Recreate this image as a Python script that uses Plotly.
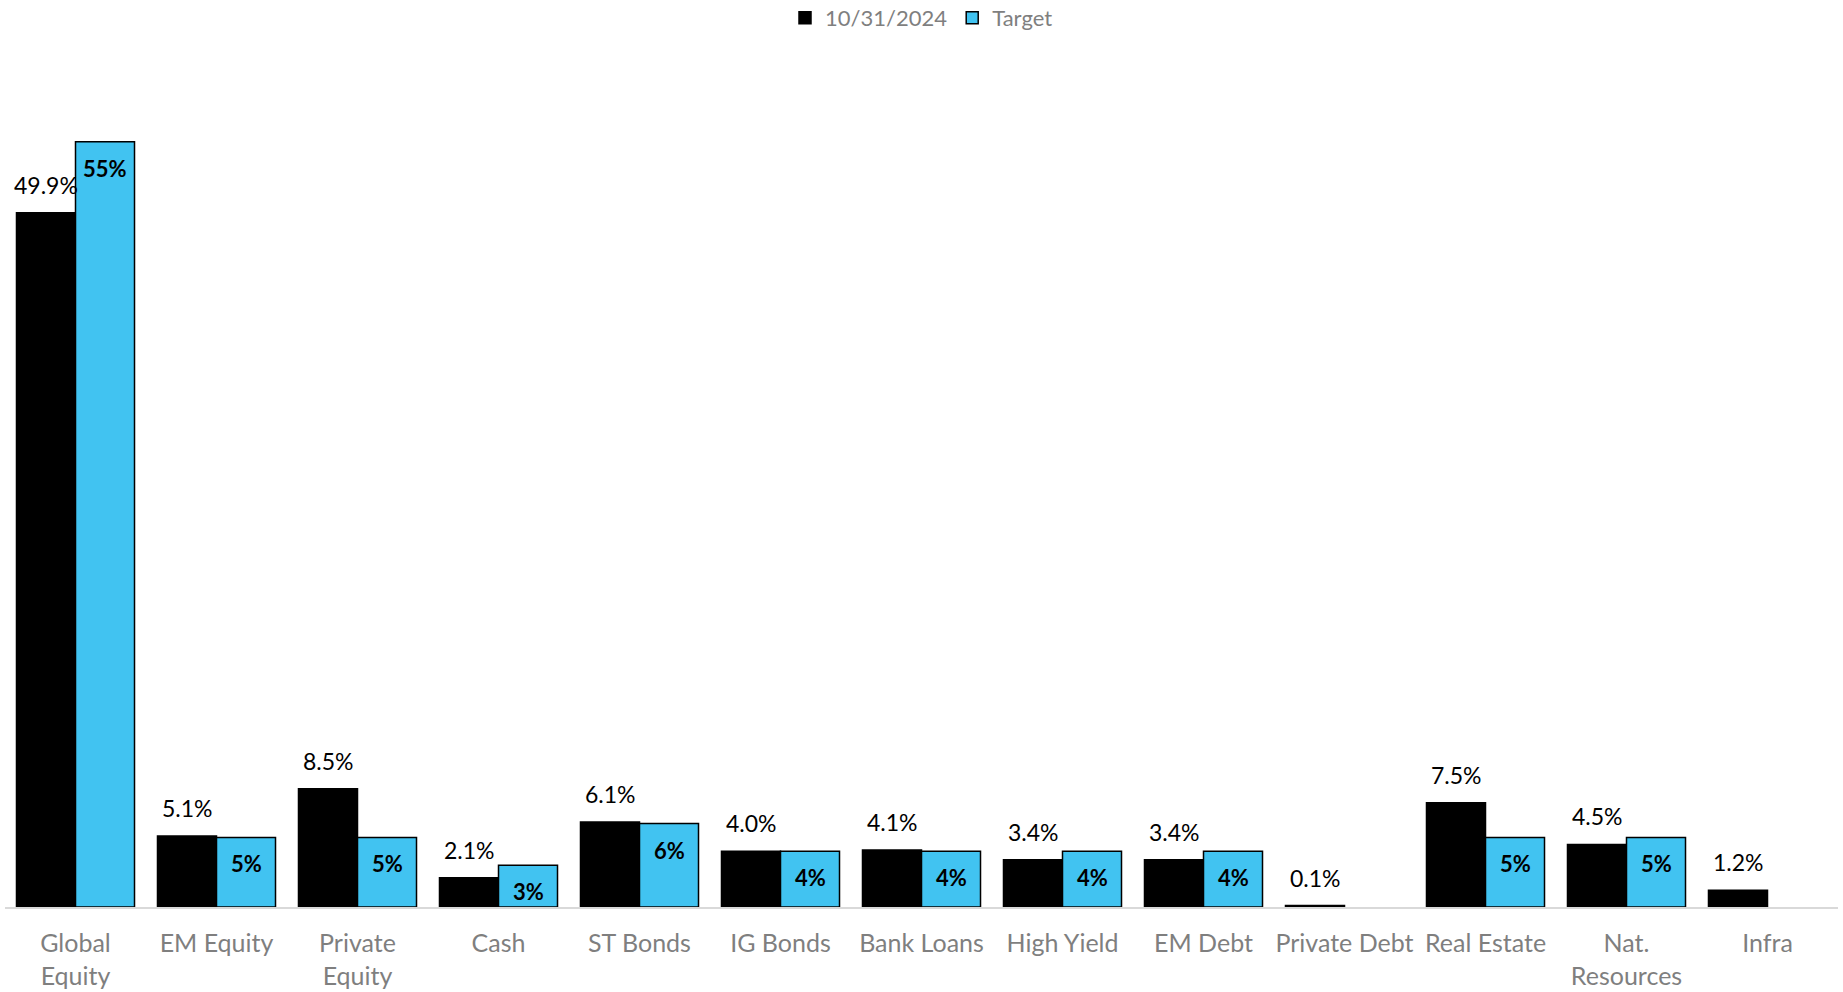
import plotly.graph_objects as go

categories = ["Global<br>Equity", "EM Equity", "Private<br>Equity", "Cash", "ST Bonds",
              "IG Bonds", "Bank Loans", "High Yield", "EM Debt", "Private Debt",
              "Real Estate", "Nat.<br>Resources", "Infra"]
current = [49.9, 5.1, 8.5, 2.1, 6.1, 4.0, 4.1, 3.4, 3.4, 0.1, 7.5, 4.5, 1.2]
target = [55, 5, 5, 3, 6, 4, 4, 4, 4, 0, 5, 5, 0]

FONT = "Lato"
BLUE = "#41C3F1"
BARGAP = 0.163
half = (1 - BARGAP) / 4  # offset of each bar centre from the category centre

fig = go.Figure()
fig.add_trace(go.Bar(
    name="10/31/2024", x=categories, y=current,
    marker=dict(color="#000000", line=dict(color="#000000", width=1.5)),
))
fig.add_trace(go.Bar(
    name="Target", x=categories, y=target,
    marker=dict(color=BLUE, line=dict(color="#000000",
                                      width=[1.5 if v > 0 else 0 for v in target])),
))

# value labels: current above its bar, target bold just inside the top of its bar
annotations = []
for i, v in enumerate(current):
    annotations.append(dict(
        x=i - half, y=v, xref="x", yref="y", text=f"{v:.1f}%", showarrow=False,
        yanchor="bottom", yshift=12,
        font=dict(family=FONT, size=23, color="#000000"),
    ))
for i, v in enumerate(target):
    if v > 0:
        annotations.append(dict(
            x=i + half, y=v, xref="x", yref="y", text=f"{v:g}%", showarrow=False,
            yanchor="top", yshift=-11,
            font=dict(family=FONT, size=22, color="#000000", weight="bold"),
        ))

fig.update_layout(
    width=1843, height=992,
    barmode="group", bargap=BARGAP, bargroupgap=0,
    plot_bgcolor="white", paper_bgcolor="white",
    margin=dict(l=5, r=5, t=61, b=85),
    font=dict(family=FONT, color="#7f7f7f"),
    legend=dict(orientation="h", x=0.5, xanchor="center", y=0.982, yref="container",
                yanchor="middle", font=dict(family=FONT, size=22, color="#7f7f7f"),
                itemwidth=30, traceorder="normal"),
    xaxis=dict(showline=True, linecolor="#d9d9d9", linewidth=2, ticks="",
               tickfont=dict(family=FONT, size=25, color="#7f7f7f"),
               ticklabelstandoff=13, showgrid=False, fixedrange=True,
               automargin=False),
    yaxis=dict(visible=False, range=[0, 60.8], showgrid=False, zeroline=False,
               automargin=False),
    annotations=annotations,
)

fig.write_html("out.html")
